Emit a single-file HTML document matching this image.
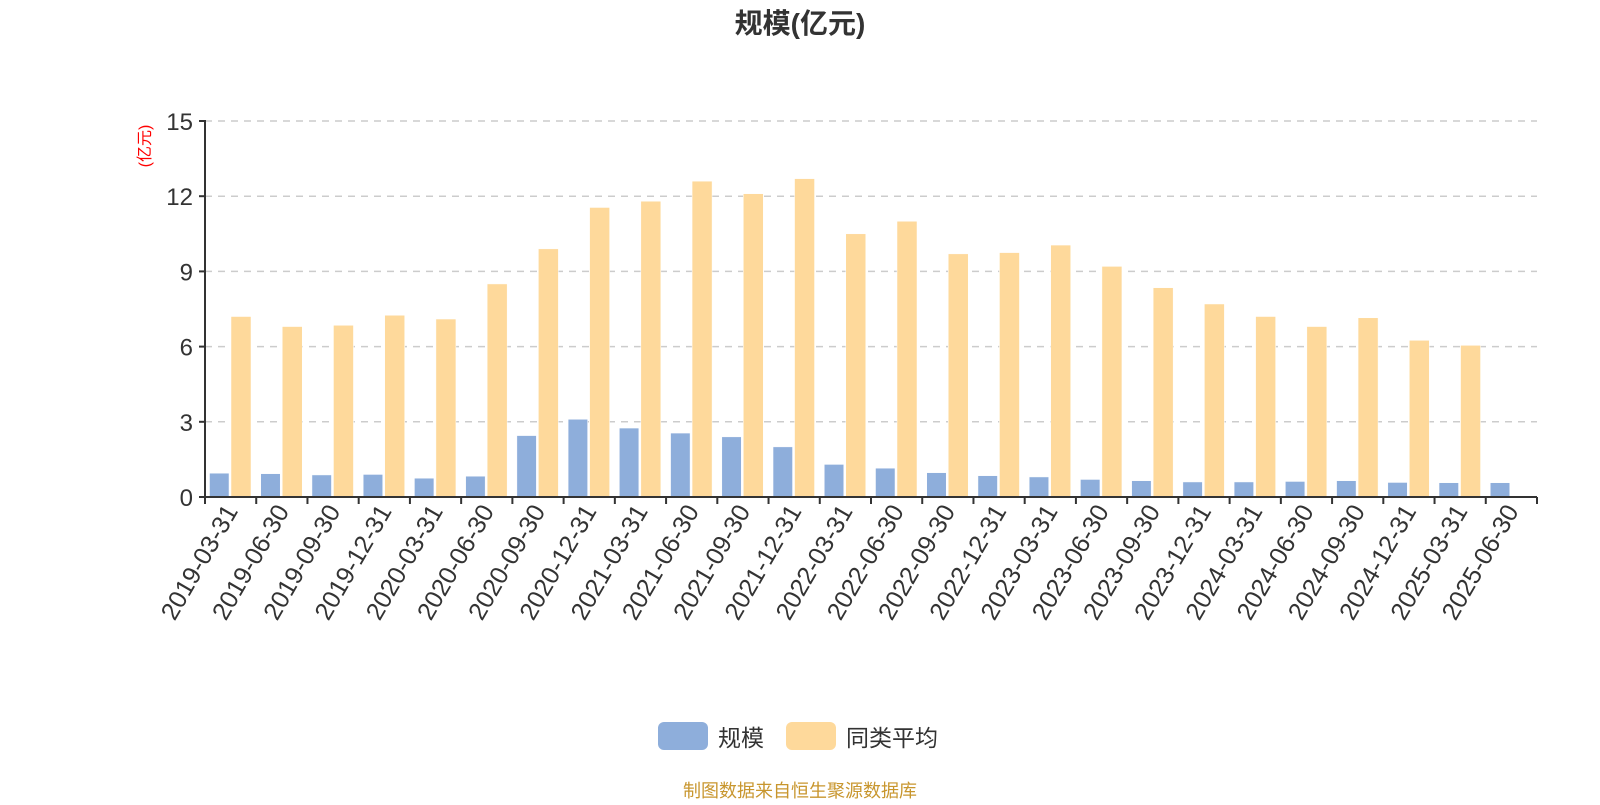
<!DOCTYPE html>
<html><head><meta charset="utf-8"><style>
body{margin:0;background:#fff;width:1600px;height:800px;overflow:hidden}
svg text{font-family:"Liberation Sans","Noto Sans CJK SC",sans-serif}
</style></head><body>
<svg width="1600" height="800" xmlns="http://www.w3.org/2000/svg" id="chart">
<text x="800" y="33" text-anchor="middle" font-size="28" font-weight="bold" fill="#333">规模(亿元)</text>
<text transform="translate(150,146) rotate(-90)" text-anchor="middle" font-size="16" fill="#f00">(亿元)</text>
<g id="grid"></g><g id="bars"></g><g id="axes"></g>
<g>
<rect x="658" y="722" width="50" height="28" rx="6" fill="#8eaedb"/>
<text x="718" y="746" font-size="23" fill="#333">规模</text>
<rect x="786" y="722" width="50" height="28" rx="6" fill="#fed99b"/>
<text x="846" y="746" font-size="23" fill="#333">同类平均</text>
</g>
<text x="800" y="797" text-anchor="middle" font-size="18" fill="#c8962e">制图数据来自恒生聚源数据库</text>
</svg>
<script>
const categories=["2019-03-31","2019-06-30","2019-09-30","2019-12-31","2020-03-31","2020-06-30","2020-09-30","2020-12-31","2021-03-31","2021-06-30","2021-09-30","2021-12-31","2022-03-31","2022-06-30","2022-09-30","2022-12-31","2023-03-31","2023-06-30","2023-09-30","2023-12-31","2024-03-31","2024-06-30","2024-09-30","2024-12-31","2025-03-31","2025-06-30"];
const scaleValues=[0.95,0.93,0.88,0.9,0.75,0.83,2.45,3.1,2.75,2.55,2.4,2.0,1.3,1.15,0.97,0.85,0.8,0.7,0.65,0.6,0.6,0.62,0.65,0.58,0.57,0.57];
const avgValues=[7.2,6.8,6.85,7.25,7.1,8.5,9.9,11.55,11.8,12.6,12.1,12.7,10.5,11.0,9.7,9.75,10.05,9.2,8.35,7.7,7.2,6.8,7.15,6.25,6.05,null];
const yTicks=[0,3,6,9,12,15];
const NS="http://www.w3.org/2000/svg";
const X0=205,X1=1537,Y0=497,Y1=121,YMAX=15;
const bw=(X1-X0)/categories.length;
const y=v=>Y0-(v/YMAX)*(Y0-Y1);
const x=i=>X0+i*bw;
function mk(t,a,p){const e=document.createElementNS(NS,t);for(const k in a)e.setAttribute(k,a[k]);p.appendChild(e);return e;}
const grid=document.getElementById('grid'),bars=document.getElementById('bars'),axes=document.getElementById('axes');
yTicks.forEach(t=>{
 if(t>0){const l=mk('line',{x1:X0,x2:X1,y1:y(t),y2:y(t),stroke:'#ccc','stroke-width':1.5,'stroke-dasharray':'7,6'},grid);
 
 }
 const tk=mk('line',{x1:X0-6,x2:X0,y1:y(t),y2:y(t),stroke:'#333','stroke-width':2},axes);
 
 
 const tx=mk('text',{x:X0-12,y:y(t)+9,'text-anchor':'end','font-size':24,fill:'#333'},axes);
 tx.textContent=t;
 
 
});
categories.forEach((c,i)=>{
 const b=mk('rect',{x:x(i)+4.5,y:y(scaleValues[i]),width:19.5,height:Y0-y(scaleValues[i]),fill:'#8eaedb',stroke:'#fff','stroke-width':0.5},bars);
 
 
 if(avgValues[i]!=null){
 const a=mk('rect',{x:x(i)+26,y:y(avgValues[i]),width:20,height:Y0-y(avgValues[i]),fill:'#fed99b',stroke:'#fff','stroke-width':0.5},bars);
 
 }
 const tk=mk('line',{x1:x(i),x2:x(i),y1:Y0,y2:Y0+7,stroke:'#333','stroke-width':2},axes);
 
 
 const cx=x(i)+bw/2;
 const tx=mk('text',{transform:`translate(${cx+8},${Y0+14}) rotate(-60)`,'text-anchor':'end','font-size':25,fill:'#333'},axes);
 tx.textContent=c;
 
 
});
const te=mk('line',{x1:X1,x2:X1,y1:Y0,y2:Y0+7,stroke:'#333','stroke-width':2},axes);


const ya=mk('line',{x1:X0,x2:X0,y1:Y1-1,y2:Y0,stroke:'#333','stroke-width':2},axes);


const xa=mk('line',{x1:X0-6,x2:X1,y1:Y0,y2:Y0,stroke:'#333','stroke-width':2},axes);


</script>
</body></html>
